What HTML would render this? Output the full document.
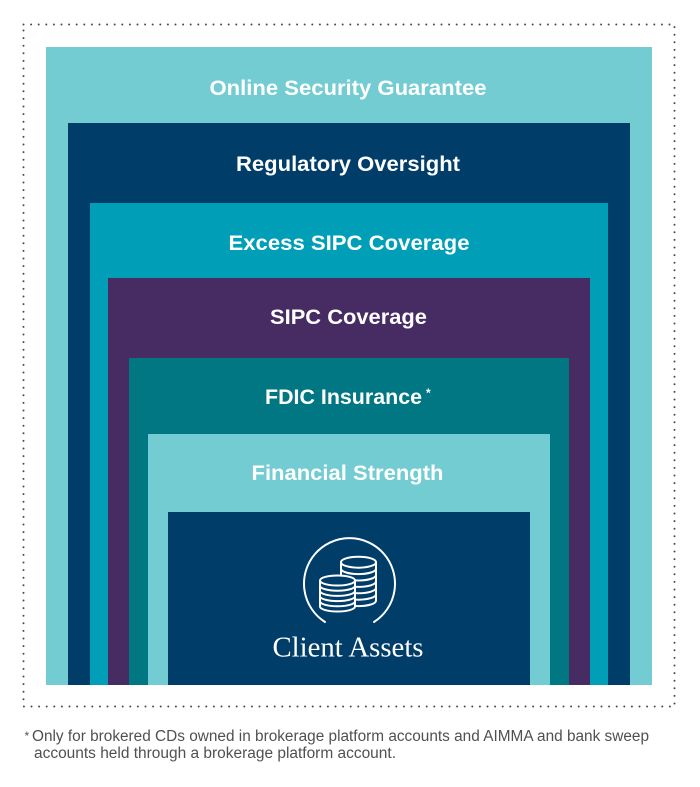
<!DOCTYPE html>
<html>
<head>
<meta charset="utf-8">
<style>
  html,body{margin:0;padding:0;background:#fff;}
  svg{display:block;}
  .t{font-family:"Liberation Sans",sans-serif;font-weight:bold;fill:#fff;font-size:21.5px;}
</style>
</head>
<body>
<svg width="700" height="787" viewBox="0 0 700 787" xmlns="http://www.w3.org/2000/svg">
  <!-- dotted frame -->
  <rect x="23.5" y="24.5" width="651" height="682" fill="none" stroke="#4a4a4a" stroke-width="2" stroke-linecap="round" stroke-dasharray="0 7.6"/>

  <!-- nested boxes -->
  <rect x="46" y="47" width="606" height="638" fill="#73CCD2"/>
  <rect x="68" y="123" width="562" height="562" fill="#003D69"/>
  <rect x="90" y="203" width="518" height="482" fill="#009FB7"/>
  <rect x="108" y="278" width="482" height="407" fill="#472C63"/>
  <rect x="129" y="358" width="440" height="327" fill="#007782"/>
  <rect x="148" y="434" width="402" height="251" fill="#73CCD2"/>
  <rect x="168" y="512" width="362" height="173" fill="#003D69"/>

  <!-- labels -->
  <text class="t" x="209.5" y="95" textLength="277" lengthAdjust="spacingAndGlyphs">Online Security Guarantee</text>
  <text class="t" x="236" y="171" textLength="224" lengthAdjust="spacingAndGlyphs">Regulatory Oversight</text>
  <text class="t" x="228.5" y="250" textLength="241" lengthAdjust="spacingAndGlyphs">Excess SIPC Coverage</text>
  <text class="t" x="270" y="324" textLength="157" lengthAdjust="spacingAndGlyphs">SIPC Coverage</text>
  <text class="t" x="265" y="404" textLength="157" lengthAdjust="spacingAndGlyphs">FDIC Insurance</text>
  <text x="426" y="397" font-family="Liberation Sans, sans-serif" font-weight="bold" font-size="12" fill="#fff">*</text>
  <text class="t" x="251.5" y="480" textLength="192" lengthAdjust="spacingAndGlyphs">Financial Strength</text>

  <!-- icon -->
  <g fill="none" stroke="#fff" stroke-width="2" stroke-linecap="round">
    <path d="M 325 622 A 45.5 45.5 0 1 1 374 622"/>
    <g>
      <path d="M341 562.2 V600.6 A17.5 5.5 0 0 0 376 600.6 V562.2" fill="#003D69"/>
      <ellipse cx="358.5" cy="562.2" rx="17.5" ry="5.5" fill="#003D69"/>
      <path d="M341 568.6 A17.5 5.5 0 0 0 376 568.6"/>
      <path d="M341 575 A17.5 5.5 0 0 0 376 575"/>
      <path d="M341 581.4 A17.5 5.5 0 0 0 376 581.4"/>
      <path d="M341 587.8 A17.5 5.5 0 0 0 376 587.8"/>
      <path d="M341 594.2 A17.5 5.5 0 0 0 376 594.2"/>
    </g>
    <g>
      <path d="M320 580.5 V606.5 A17.5 5 0 0 0 355 606.5 V580.5 Z" fill="#003D69" stroke="none"/>
      <path d="M320 580.5 V606.5 A17.5 5 0 0 0 355 606.5 V580.5"/>
      <ellipse cx="337.5" cy="580.5" rx="17.5" ry="5" fill="#003D69"/>
      <path d="M320 585.7 A17.5 5 0 0 0 355 585.7"/>
      <path d="M320 590.9 A17.5 5 0 0 0 355 590.9"/>
      <path d="M320 596.1 A17.5 5 0 0 0 355 596.1"/>
      <path d="M320 601.3 A17.5 5 0 0 0 355 601.3"/>
    </g>
  </g>

  <text x="272.5" y="656.5" font-family="Liberation Serif, serif" font-size="29" fill="#fff" textLength="151" lengthAdjust="spacingAndGlyphs">Client Assets</text>

  <!-- footnote -->
  <text x="24.5" y="740" font-family="Liberation Sans, sans-serif" font-size="12" fill="#555">*</text>
  <text x="32" y="741" font-family="Liberation Sans, sans-serif" font-size="15.5" fill="#505050" textLength="617" lengthAdjust="spacingAndGlyphs">Only for brokered CDs owned in brokerage platform accounts and AIMMA and bank sweep</text>
  <text x="34" y="758" font-family="Liberation Sans, sans-serif" font-size="15.5" fill="#505050" textLength="362" lengthAdjust="spacingAndGlyphs">accounts held through a brokerage platform account.</text>
</svg>
</body>
</html>
